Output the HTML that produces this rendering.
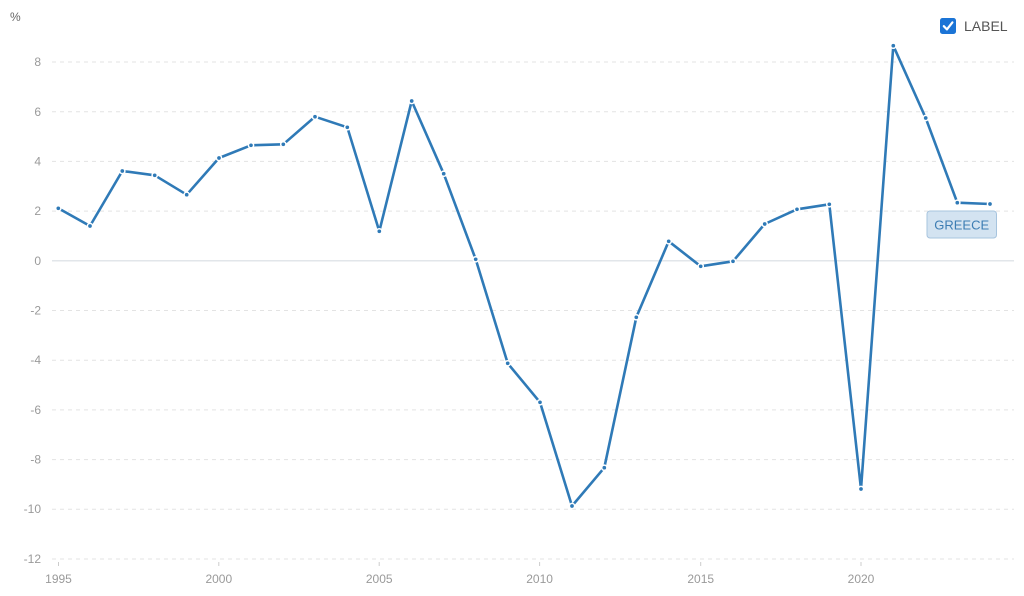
<!DOCTYPE html>
<html>
<head>
<meta charset="utf-8">
<style>
html,body{margin:0;padding:0;background:#fff;}
body{width:1024px;height:596px;overflow:hidden;font-family:"Liberation Sans",sans-serif;}
svg{display:block;}
</style>
</head>
<body>
<svg width="1024" height="596" viewBox="0 0 1024 596" xmlns="http://www.w3.org/2000/svg">
  <rect width="1024" height="596" fill="#fff"/>
  <!-- unit label -->
  <text x="10" y="21" font-family="Liberation Sans, sans-serif" font-size="12" fill="#666">%</text>
  <!-- gridlines -->
  <g stroke="#e3e3e3" stroke-width="1" stroke-dasharray="4,4">
    <line x1="52" y1="62" x2="1014" y2="62"/>
    <line x1="52" y1="111.7" x2="1014" y2="111.7"/>
    <line x1="52" y1="161.4" x2="1014" y2="161.4"/>
    <line x1="52" y1="211.1" x2="1014" y2="211.1"/>
    <line x1="52" y1="310.5" x2="1014" y2="310.5"/>
    <line x1="52" y1="360.2" x2="1014" y2="360.2"/>
    <line x1="52" y1="409.9" x2="1014" y2="409.9"/>
    <line x1="52" y1="459.6" x2="1014" y2="459.6"/>
    <line x1="52" y1="509.3" x2="1014" y2="509.3"/>
    <line x1="52" y1="559" x2="1014" y2="559"/>
  </g>
  <line x1="52" y1="260.8" x2="1014" y2="260.8" stroke="#e2e6ea" stroke-width="1.5"/>
  <!-- y labels -->
  <g font-family="Liberation Sans, sans-serif" font-size="12" fill="#9a9a9a" text-anchor="end">
    <text x="41" y="66">8</text>
    <text x="41" y="116">6</text>
    <text x="41" y="165.5">4</text>
    <text x="41" y="215">2</text>
    <text x="41" y="265">0</text>
    <text x="41" y="314.5">-2</text>
    <text x="41" y="364">-4</text>
    <text x="41" y="414">-6</text>
    <text x="41" y="463.5">-8</text>
    <text x="41" y="513">-10</text>
    <text x="41" y="563">-12</text>
  </g>
  <!-- x ticks -->
  <g stroke="#cccccc" stroke-width="1">
    <line x1="58.5" y1="562" x2="58.5" y2="566"/>
    <line x1="218.8" y1="562" x2="218.8" y2="566"/>
    <line x1="379.2" y1="562" x2="379.2" y2="566"/>
    <line x1="539.6" y1="562" x2="539.6" y2="566"/>
    <line x1="700.7" y1="562" x2="700.7" y2="566"/>
    <line x1="861" y1="562" x2="861" y2="566"/>
  </g>
  <g font-family="Liberation Sans, sans-serif" font-size="12" fill="#9a9a9a" text-anchor="middle">
    <text x="58.5" y="583">1995</text>
    <text x="218.8" y="583">2000</text>
    <text x="379.2" y="583">2005</text>
    <text x="539.6" y="583">2010</text>
    <text x="700.7" y="583">2015</text>
    <text x="861" y="583">2020</text>
  </g>
  <!-- series -->
  <polyline fill="none" stroke="#2f7ab7" stroke-width="2.6" stroke-linejoin="round"
    points="58.3,208.3 90,226 122.3,171 154.7,175.3 186.7,194.7 219,158 251,145.3 283.3,144.3 315,116.7 347.3,127.3 379.3,231.3 411.7,101 443.7,173.7 475.7,259.3 507.7,363.3 540,402.3 572,506 604.3,467.7 636.3,317.3 668.7,241.3 700.7,266.3 733,261.3 764.7,224 797,209.3 829.3,204.3 861,489 893.3,45.7 925.7,118 957.3,202.7 990,204"/>
  <g fill="#2f7ab7" stroke="#fff" stroke-width="1.5">
    <circle cx="58.3" cy="208.3" r="2.6"/>
    <circle cx="90" cy="226" r="2.6"/>
    <circle cx="122.3" cy="171" r="2.6"/>
    <circle cx="154.7" cy="175.3" r="2.6"/>
    <circle cx="186.7" cy="194.7" r="2.6"/>
    <circle cx="219" cy="158" r="2.6"/>
    <circle cx="251" cy="145.3" r="2.6"/>
    <circle cx="283.3" cy="144.3" r="2.6"/>
    <circle cx="315" cy="116.7" r="2.6"/>
    <circle cx="347.3" cy="127.3" r="2.6"/>
    <circle cx="379.3" cy="231.3" r="2.6"/>
    <circle cx="411.7" cy="101" r="2.6"/>
    <circle cx="443.7" cy="173.7" r="2.6"/>
    <circle cx="475.7" cy="259.3" r="2.6"/>
    <circle cx="507.7" cy="363.3" r="2.6"/>
    <circle cx="540" cy="402.3" r="2.6"/>
    <circle cx="572" cy="506" r="2.6"/>
    <circle cx="604.3" cy="467.7" r="2.6"/>
    <circle cx="636.3" cy="317.3" r="2.6"/>
    <circle cx="668.7" cy="241.3" r="2.6"/>
    <circle cx="700.7" cy="266.3" r="2.6"/>
    <circle cx="733" cy="261.3" r="2.6"/>
    <circle cx="764.7" cy="224" r="2.6"/>
    <circle cx="797" cy="209.3" r="2.6"/>
    <circle cx="829.3" cy="204.3" r="2.6"/>
    <circle cx="861" cy="489" r="2.6"/>
    <circle cx="893.3" cy="45.7" r="2.6"/>
    <circle cx="925.7" cy="118" r="2.6"/>
    <circle cx="957.3" cy="202.7" r="2.6"/>
    <circle cx="990" cy="204" r="2.6"/>
  </g>
  <!-- series label -->
  <rect x="927" y="211" width="69.5" height="27" rx="3" ry="3" fill="#d3e3f1" stroke="#a7c4de" stroke-width="1"/>
  <text x="961.7" y="229.5" font-family="Liberation Sans, sans-serif" font-size="13" fill="#3d7db3" text-anchor="middle">GREECE</text>
  <!-- legend checkbox -->
  <rect x="940" y="18" width="16" height="16" rx="2.5" ry="2.5" fill="#1b74d6"/>
  <path d="M943.8 26.2 L946.9 29.4 L952.4 22.4" fill="none" stroke="#fff" stroke-width="2.2" stroke-linecap="round" stroke-linejoin="round"/>
  <text x="964" y="31" font-family="Liberation Sans, sans-serif" font-size="14" fill="#555">LABEL</text>
</svg>
</body>
</html>
